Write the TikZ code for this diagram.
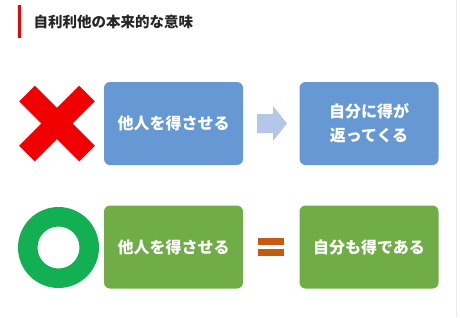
\documentclass[tikz,border=0pt]{standalone}
\usepackage{fontspec}
\newfontfamily\jp{Noto Sans CJK JP}
\usetikzlibrary{positioning,calc}
\definecolor{boxblue}{HTML}{6699D3}
\definecolor{boxgreen}{HTML}{70AD47}
\definecolor{ringgreen}{HTML}{12B052}
\definecolor{ngred}{HTML}{F00000}
\definecolor{arrowblue}{HTML}{B4C7E7}
\definecolor{eqorange}{HTML}{C55A11}
\begin{document}
\begin{tikzpicture}[
    x=1pt, y=-1pt,
    box/.style={rectangle, rounded corners=6pt, minimum width=139pt, minimum height=83pt,
                align=center, text=white, font=\jp\bfseries\fontsize{16}{24}\selectfont},
    bluebox/.style={box, fill=boxblue},
    greenbox/.style={box, fill=boxgreen},
    eqbar/.style={fill=eqorange}
]
\useasboundingbox (0,0) rectangle (460,317);

% title
\fill[ngred] (18,5) rectangle (20.5,38);
\node[anchor=west, font=\jp\bfseries\fontsize{14.5}{18}\selectfont, text=black!85] (title) at (30,21.5) {自利利他の本来的な意味};
\draw[black!8] (456,0) -- (456,317);

% upper row
\node[bluebox] (give1) at (173.5,123.5) {他人を得させる};
\node[bluebox] (get1) at (369,123.5) {自分に得が\\返ってくる};
\coordinate (ng) at (57,123.5);
\draw[ngred, line width=22pt] ($(ng)+(-30,-30)$) -- ($(ng)+(30,30)$);
\draw[ngred, line width=22pt] ($(ng)+(-30,30)$) -- ($(ng)+(30,-30)$);
\coordinate (arr) at (257,123.5);
\fill[arrowblue] (arr) ++(0,-9.5) -- ++(16,0) -- ++(0,-8) -- ++(14,17.5)
    -- ++(-14,17.5) -- ++(0,-8) -- ++(-16,0) -- cycle;

% lower row
\node[greenbox] (give2) at (173.5,247) {他人を得させる};
\node[greenbox] (get2) at (369,247) {自分も得である};
\coordinate (ok) at (58.5,247.5);
\fill[ringgreen, even odd rule] (ok) circle[radius=40.5] (ok) circle[radius=21];
\fill[eqbar] (258,238) rectangle (284,245);
\fill[eqbar] (258,249) rectangle (284,256);

\end{tikzpicture}
\end{document}
